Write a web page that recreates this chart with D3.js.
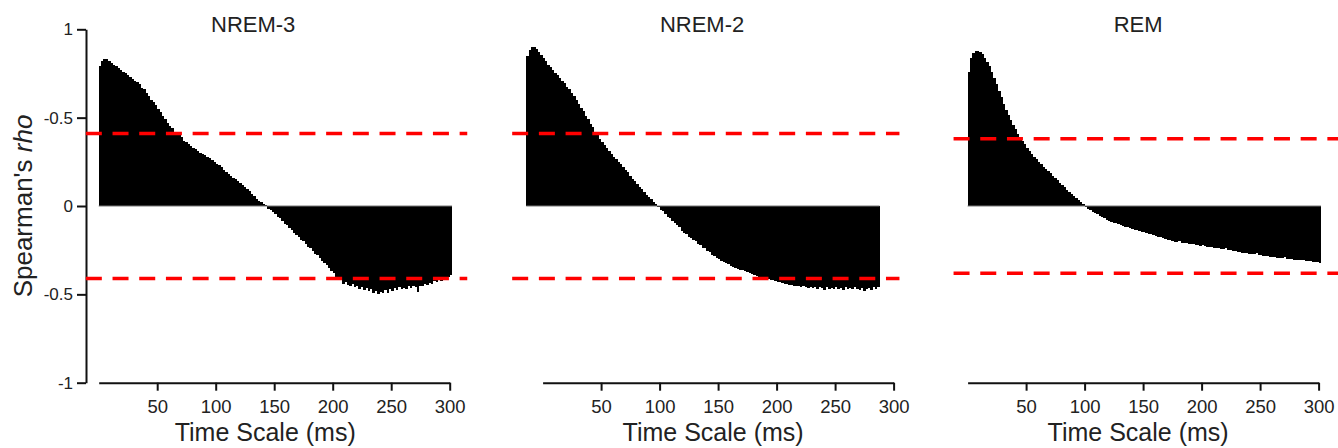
<!DOCTYPE html>
<html>
<head>
<meta charset="utf-8">
<script src="https://cdn.jsdelivr.net/npm/d3@7"></script>
<style>
  body { margin: 0; background: #fff; }
  svg { display: block; font-family: "Liberation Sans", Arial, sans-serif; }
  .axis path, .axis line { stroke: #111; stroke-width: 2px; }
  .axis text { fill: #222; }
  .label, .title { fill: #222; }
</style>
</head>
<body>
<div id="chart"></div>
<script>
// ---- data ----
const stages = ["NREM-3", "NREM-2", "REM"];
const timeStep = 2; // ms per bar
const startTimes = [0, -14, 0]; // first bar time of each panel (ms)

const nrem3Rho = [
  0.79, 0.82, 0.83, 0.83, 0.82, 0.81, 0.80, 0.79, 0.78, 0.77, 0.76, 0.75, 0.74, 0.73, 0.72, 0.71, 0.70, 0.69, 0.67, 0.66,
  0.64, 0.62, 0.60, 0.59, 0.57, 0.55, 0.53, 0.51, 0.49, 0.47, 0.45, 0.44, 0.42, 0.41, 0.40, 0.39, 0.37, 0.36, 0.35, 0.34,
  0.33, 0.32, 0.31, 0.30, 0.295, 0.29, 0.28, 0.27, 0.26, 0.25, 0.24, 0.23, 0.22, 0.205, 0.195, 0.18, 0.17, 0.16, 0.15, 0.14,
  0.13, 0.12, 0.11, 0.095, 0.085, 0.07, 0.055, 0.04, 0.03, 0.02, 0.01, 0.004, -0.015, -0.025, -0.035, -0.045, -0.06, -0.07, -0.085, -0.10,
  -0.11, -0.125, -0.135, -0.15, -0.165, -0.175, -0.19, -0.20, -0.215, -0.23, -0.24, -0.255, -0.27, -0.28, -0.295, -0.31, -0.32, -0.335, -0.35, -0.37,
  -0.38, -0.40, -0.415, -0.42, -0.44, -0.43, -0.445, -0.45, -0.44, -0.46, -0.455, -0.47, -0.46, -0.475, -0.465, -0.48, -0.47, -0.49, -0.48, -0.50,
  -0.485, -0.495, -0.475, -0.49, -0.47, -0.48, -0.465, -0.475, -0.46, -0.47, -0.465, -0.47, -0.455, -0.465, -0.45, -0.46, -0.485, -0.45, -0.455, -0.44,
  -0.445, -0.435, -0.44, -0.425, -0.43, -0.415, -0.425, -0.41, -0.415, -0.40, -0.39
];

const nrem2Rho = [
  0.85, 0.885, 0.90, 0.90, 0.89, 0.87, 0.855, 0.84, 0.82, 0.80, 0.785, 0.77, 0.755, 0.74, 0.725, 0.71, 0.695, 0.675, 0.66, 0.64,
  0.62, 0.60, 0.58, 0.555, 0.535, 0.51, 0.49, 0.465, 0.445, 0.42, 0.40, 0.38, 0.365, 0.345, 0.33, 0.31, 0.295, 0.28, 0.265, 0.25,
  0.235, 0.22, 0.205, 0.19, 0.17, 0.155, 0.14, 0.125, 0.11, 0.095, 0.08, 0.065, 0.05, 0.04, 0.025, 0.01, -0.005, -0.02, -0.03, -0.045,
  -0.06, -0.07, -0.085, -0.095, -0.11, -0.12, -0.14, -0.15, -0.16, -0.175, -0.18, -0.195, -0.20, -0.215, -0.22, -0.235, -0.24, -0.255, -0.26, -0.275,
  -0.285, -0.295, -0.30, -0.31, -0.315, -0.325, -0.33, -0.34, -0.345, -0.35, -0.355, -0.36, -0.365, -0.37, -0.375, -0.38, -0.385, -0.39, -0.395, -0.40,
  -0.40, -0.405, -0.41, -0.415, -0.42, -0.42, -0.425, -0.43, -0.43, -0.435, -0.44, -0.44, -0.445, -0.445, -0.45, -0.455, -0.45, -0.46, -0.455, -0.46,
  -0.465, -0.46, -0.465, -0.46, -0.47, -0.46, -0.465, -0.475, -0.46, -0.47, -0.465, -0.47, -0.46, -0.47, -0.465, -0.475, -0.46, -0.47, -0.465, -0.47,
  -0.46, -0.47, -0.475, -0.465, -0.48, -0.47, -0.465, -0.475, -0.46, -0.47, -0.46
];

const remRho = [
  0.76, 0.84, 0.865, 0.878, 0.879, 0.872, 0.858, 0.838, 0.815, 0.79, 0.76, 0.725, 0.69, 0.65, 0.615, 0.575, 0.545, 0.515, 0.485, 0.458,
  0.433, 0.41, 0.39, 0.37, 0.35, 0.33, 0.31, 0.295, 0.28, 0.265, 0.25, 0.235, 0.222, 0.208, 0.196, 0.185, 0.172, 0.16, 0.145, 0.132,
  0.118, 0.105, 0.09, 0.078, 0.066, 0.055, 0.044, 0.034, 0.024, 0.01, -0.005, -0.015, -0.025, -0.034, -0.041, -0.048, -0.055, -0.062, -0.07, -0.078,
  -0.085, -0.089, -0.094, -0.098, -0.103, -0.108, -0.113, -0.117, -0.121, -0.125, -0.129, -0.133, -0.137, -0.141, -0.145, -0.149, -0.153, -0.157, -0.161, -0.165,
  -0.17, -0.174, -0.178, -0.182, -0.186, -0.19, -0.194, -0.198, -0.202, -0.204, -0.2, -0.208, -0.21, -0.212, -0.214, -0.215, -0.216, -0.22, -0.222, -0.224,
  -0.218, -0.226, -0.23, -0.232, -0.234, -0.236, -0.238, -0.24, -0.242, -0.245, -0.236, -0.248, -0.251, -0.254, -0.257, -0.26, -0.262, -0.264, -0.266, -0.268,
  -0.27, -0.272, -0.274, -0.266, -0.277, -0.279, -0.281, -0.283, -0.285, -0.287, -0.289, -0.29, -0.292, -0.294, -0.296, -0.288, -0.298, -0.3, -0.302, -0.303,
  -0.305, -0.306, -0.307, -0.308, -0.31, -0.311, -0.313, -0.315, -0.317, -0.319, -0.321
];

const seriesRho = [nrem3Rho, nrem2Rho, remRho];

// significance thresholds (+/-) and the time span the dashed lines cover
const thresholds = [0.41, 0.41, 0.38];
const thresholdSpans = [[-11, 315], [-26, 305], [-12, 325]];

const xTicks = [50, 100, 150, 200, 250, 300];
const yTicks = [1, 0.5, 0, -0.5, -1];
const yTickLabels = ["1", "-0.5", "0", "-0.5", "-1"];

// ---- layout ----
const width = 1338, height = 448;
const panelLeft = [98.7, 542.6, 967.6];
const panelWidth = 351;
const titleOffset = [-21, -16, -5];
const xLabelOffset = [-9, -5, -5];
const yTop = 29.3, yBottom = 382.7;

const svg = d3.select("#chart").append("svg")
  .attr("width", width)
  .attr("height", height);

const yScale = d3.scaleLinear().domain([-1, 1]).range([yBottom, yTop]);

// y axis (first panel only)
const yAxisG = svg.append("g")
  .attr("class", "axis y-axis")
  .attr("transform", "translate(86,0)")
  .call(d3.axisLeft(yScale)
    .tickValues(yTicks)
    .tickFormat((d, i) => yTickLabels[i])
    .tickSize(9)
    .tickSizeOuter(0)
    .tickPadding(4));
yAxisG.selectAll("text").style("font-size", "17px");

const yLabel = svg.append("text")
  .attr("class", "label")
  .attr("transform", "rotate(-90)")
  .attr("x", -yScale(0))
  .attr("y", 32)
  .attr("text-anchor", "middle")
  .style("font-size", "26px");
yLabel.append("tspan").text("Spearman's ");
yLabel.append("tspan").style("font-style", "italic").text("rho");

stages.forEach((stage, p) => {
  const x = d3.scaleLinear().domain([0, 300]).range([panelLeft[p], panelLeft[p] + panelWidth]);
  const rows = seriesRho[p].map((v, i) => ({ t: startTimes[p] + i * timeStep, v: v }));

  const g = svg.append("g").attr("class", "panel");

  g.append("g").attr("class", "bars")
    .selectAll("rect")
    .data(rows)
    .join("rect")
    .attr("x", d => x(d.t))
    .attr("width", d => x(d.t + timeStep) - x(d.t) + 0.15)
    .attr("y", d => yScale(Math.max(d.v, 0)))
    .attr("height", d => Math.abs(yScale(d.v) - yScale(0)))
    .attr("fill", "#000")
    .attr("shape-rendering", "crispEdges");

  // zero line across the bars
  g.append("line")
    .attr("x1", x(rows[0].t))
    .attr("x2", x(rows[rows.length - 1].t + timeStep))
    .attr("y1", yScale(0))
    .attr("y2", yScale(0))
    .attr("stroke", "#777")
    .attr("stroke-width", 1);

  // dashed threshold lines
  [thresholds[p], -thresholds[p]].forEach(th => {
    g.append("line")
      .attr("x1", x(thresholdSpans[p][0]))
      .attr("x2", x(thresholdSpans[p][1]))
      .attr("y1", yScale(th))
      .attr("y2", yScale(th))
      .attr("stroke", "#ff0000")
      .attr("stroke-width", 3.5)
      .attr("stroke-dasharray", "16,10.7");
  });

  const xAxisG = g.append("g")
    .attr("class", "axis x-axis")
    .attr("transform", `translate(0,${yBottom})`)
    .call(d3.axisBottom(x)
      .tickValues(xTicks)
      .tickSize(8)
      .tickSizeOuter(0)
      .tickPadding(9));
  xAxisG.selectAll("text").style("font-size", "18.5px");

  g.append("text")
    .attr("class", "title")
    .attr("x", x(150) + titleOffset[p])
    .attr("y", 32)
    .attr("text-anchor", "middle")
    .style("font-size", "22px")
    .text(stage);

  g.append("text")
    .attr("class", "label")
    .attr("x", x(150) + xLabelOffset[p])
    .attr("y", 441)
    .attr("text-anchor", "middle")
    .style("font-size", "25px")
    .text("Time Scale (ms)");
});
</script>
</body>
</html>
